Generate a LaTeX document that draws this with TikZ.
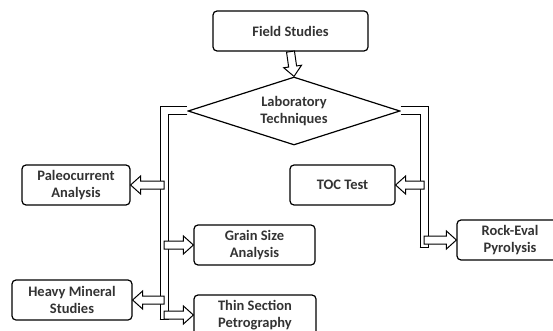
\documentclass[tikz,border=0pt]{standalone}
\usepackage{fontspec}
\setmainfont{Carlito}
\usetikzlibrary{shapes,calc}

\newcommand{\hollow}[2]{%
  \draw[fill=white,line width=1pt,line join=miter]
    let \p1=(#1), \p2=(#2), \n1={veclen(\x2-\x1,\y2-\y1)}, \n2={atan2(\y2-\y1,\x2-\x1)} in
    [shift={(\p1)},rotate=\n2]
    (0,4pt) -- (\n1-10pt,4pt) -- (\n1-10pt,9pt) -- (\n1,0) -- (\n1-10pt,-9pt)
    -- (\n1-10pt,-4pt) -- (0,-4pt) -- cycle;}

\begin{document}
\begin{tikzpicture}[x=1pt,y=-1pt,line width=1.2pt,
                    font=\bfseries\fontsize{14.5}{17}\selectfont,
                    box/.style={draw,rounded corners=4pt,align=center,
                                text=black!80,minimum height=40pt},
                    chan/.style={double,double distance=7pt,line width=1pt}]

  \useasboundingbox (0,0) rectangle (553,331);

  \node[box,minimum width=155pt] (field) at (290.5,31)  {Field Studies};
  \node[draw,diamond,aspect=3.2,minimum width=212pt,minimum height=68pt,
        inner sep=0pt,align=center,text=black!80] (lab) at (294,111)
        {Laboratory\\Techniques};
  \node[box,minimum width=108pt] (paleo) at (76,185)    {Paleocurrent\\Analysis};
  \node[box,minimum width=120pt] (heavy) at (72,300)    {Heavy Mineral\\Studies};
  \node[box,minimum width=121pt] (grain) at (254.5,245) {Grain Size\\Analysis};
  \node[box,minimum width=122pt] (thin)  at (255,315)   {Thin Section\\Petrography};
  \node[box,minimum width=105pt] (toc)   at (342.5,185) {TOC Test};
  \node[box,minimum width=106pt] (rock)  at (510,240)   {Rock-Eval\\Pyrolysis};

  \coordinate (lbot) at (164,319);
  \coordinate (rbot) at (424,247);

  \draw[chan] (lab.west) -| (lbot);
  \draw[chan] (lab.east) -| (rbot);
  \draw[line width=1pt] ([xshift=-4.5pt]lbot) -- ([xshift=4.5pt]lbot);
  \draw[line width=1pt] ([xshift=-4.5pt]rbot) -- ([xshift=4.5pt]rbot);

  \hollow{field.south}{lab.north}
  \hollow{lbot |- paleo.east}{paleo.east}
  \hollow{lbot |- heavy.east}{heavy.east}
  \hollow{lbot |- grain.west}{grain.west}
  \hollow{lbot |- thin.west}{thin.west}
  \hollow{rbot |- toc.east}{toc.east}
  \hollow{rbot |- rock.west}{rock.west}
\end{tikzpicture}
\end{document}
